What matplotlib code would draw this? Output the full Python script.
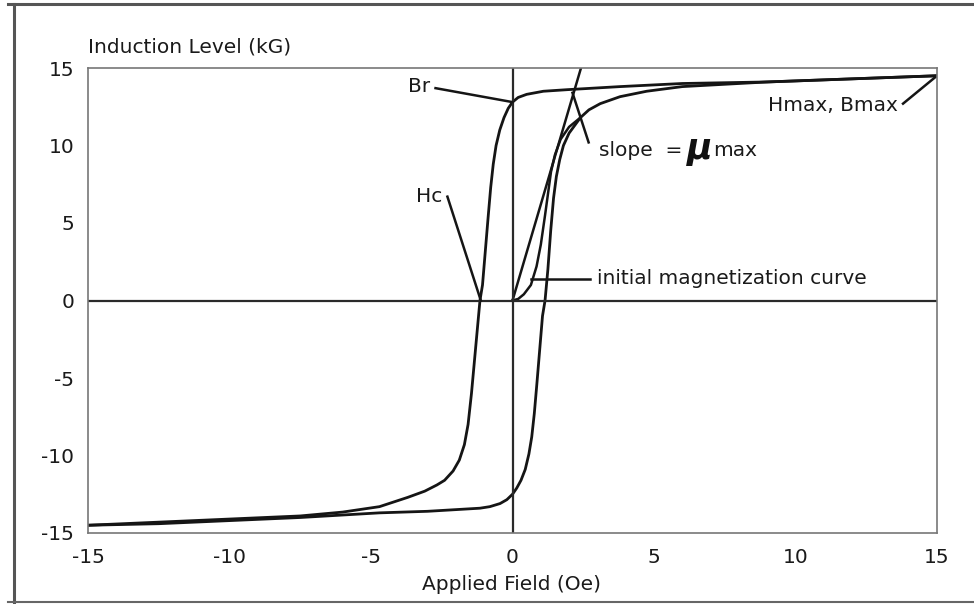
import numpy as np
import matplotlib
matplotlib.use("Agg")
import matplotlib.pyplot as plt
from matplotlib.lines import Line2D

plt.rcParams['font.family'] = ['DejaVu Sans']
plt.rcParams['axes.unicode_minus'] = False

### Data ######################################################################
# descending branch, from Hmax down to -Hmax
h_desc = [15, 12, 9, 6, 3.8, 1.92, 1.09, 0.5, 0.2, 0.0, -0.15, -0.3, -0.45,
          -0.58, -0.68, -0.77, -0.86, -0.96, -1.06, -1.15, -1.25, -1.35, -1.45,
          -1.57, -1.7, -1.88, -2.1, -2.4, -2.67, -3.1, -3.7, -4.7, -6.0, -7.5,
          -10, -12.5, -15]
b_desc = [14.5, 14.3, 14.1, 14.0, 13.8, 13.6, 13.5, 13.3, 13.1, 12.8, 12.4,
          11.8, 11.0, 10.0, 8.8, 7.3, 5.4, 3.2, 1.0, 0.0, -2.0, -4.0, -6.0,
          -8.0, -9.3, -10.3, -11.0, -11.6, -11.9, -12.3, -12.7, -13.3, -13.65,
          -13.9, -14.1, -14.3, -14.5]

# ascending branch, from -Hmax up to Hmax
h_asc = [-15, -12.5, -10, -7.5, -4.7, -3.0, -1.15, -0.8, -0.44, -0.2, 0.0, 0.15,
         0.3, 0.45, 0.58, 0.68, 0.77, 0.86, 0.96, 1.06, 1.15, 1.25, 1.35, 1.45,
         1.55, 1.67, 1.8, 2.0, 2.4, 2.7, 3.1, 3.8, 4.74, 6.0, 9, 12, 15]
b_asc = [-14.5, -14.4, -14.2, -14.0, -13.7, -13.6, -13.4, -13.3, -13.1, -12.85,
         -12.5, -12.1, -11.6, -10.9, -9.9, -8.8, -7.3, -5.4, -3.2, -1.0, 0.0,
         2.0, 4.5, 6.6, 8.0, 9.1, 10.0, 10.8, 11.8, 12.3, 12.7, 13.15, 13.5,
         13.8, 14.1, 14.3, 14.5]

# initial magnetization curve
h_init = [0.0, 0.2, 0.4, 0.65, 0.85, 1.0, 1.15, 1.36, 1.5, 1.7, 2.0, 2.4]
b_init = [0.0, 0.1, 0.4, 1.0, 2.2, 3.6, 5.5, 8.3, 9.4, 10.4, 11.2, 11.8]

# slope = mu max line
h_slope = [0.0, 2.42]
b_slope = [0.0, 15.0]

x_ticks = [-15, -10, -5, 0, 5, 10, 15]
y_ticks = [-15, -10, -5, 0, 5, 10, 15]

### Figure #####################################################################
fig = plt.figure(figsize=(9.74, 6.04), dpi=100)
ax = fig.add_axes([88 / 974, 71 / 604, 849 / 974, 465 / 604])

ink = '#151515'
ax.plot(h_desc, b_desc, color=ink, lw=2.0, solid_joinstyle='round')
ax.plot(h_asc, b_asc, color=ink, lw=2.0, solid_joinstyle='round')
ax.plot(h_init, b_init, color=ink, lw=1.8, solid_joinstyle='round')
ax.plot(h_slope, b_slope, color=ink, lw=1.8)

ax.axhline(0, color='#2a2a2a', lw=1.6)
ax.axvline(0, color='#2a2a2a', lw=1.6)

ax.set_xlim(-15, 15)
ax.set_ylim(-15, 15)

for s in ax.spines.values():
    s.set_color('#777777')
    s.set_linewidth(1.2)

ax.set_xticks(x_ticks)
ax.set_yticks(y_ticks)
ax.set_xticklabels([str(v) for v in x_ticks])
ax.set_yticklabels([str(v) for v in y_ticks])
ax.set_xticks([-10, -5, 5, 10], minor=True)
ax.set_yticks([5, 10], minor=True)
ax.tick_params(which='major', length=0, labelsize=14.5, colors='#1a1a1a')
ax.tick_params(axis='x', which='major', pad=11)
ax.tick_params(axis='y', which='major', pad=10)
ax.tick_params(which='minor', direction='in', length=8, width=1.3, color='#333333')

ax.text(0.0, 1.045, 'Induction Level (kG)', transform=ax.transAxes,
        ha='left', va='center', fontsize=14.5, color='#1a1a1a')
fig.text(512 / 974, 1 - 585 / 604, 'Applied Field (Oe)', ha='center', va='center',
         fontsize=14.5, color='#1a1a1a')

### Annotations ################################################################
lead = dict(color=ink, lw=1.8)
ax.plot([-2.72, 0.0], [13.7, 12.8], **lead)
ax.text(-3.3, 13.8, 'Br', ha='center', va='center', fontsize=14.5, color='#1a1a1a')

ax.plot([-2.3, -1.12], [6.7, 0.0], **lead)
ax.text(-2.95, 6.7, 'Hc', ha='center', va='center', fontsize=14.5, color='#1a1a1a')

ax.plot([2.69, 2.12], [10.2, 13.4], **lead)
ax.text(3.04, 9.7, 'slope  =', ha='left', va='center', fontsize=14.5, color='#1a1a1a')
ax.text(6.15, 9.75, 'μ', ha='left', va='center', fontsize=25, fontweight='bold',
        fontstyle='italic', color='#111111')
ax.text(7.1, 9.7, 'max', ha='left', va='center', fontsize=14.5, color='#1a1a1a')

ax.plot([13.8, 15.0], [12.7, 14.5], **lead)
ax.text(13.6, 12.6, 'Hmax, Bmax', ha='right', va='center', fontsize=14.5,
        color='#1a1a1a')

ax.plot([0.67, 2.74], [1.4, 1.4], **lead)
ax.text(3.0, 1.4, 'initial magnetization curve', ha='left', va='center',
        fontsize=14.5, color='#1a1a1a')

### Scanned page border ########################################################
fig.add_artist(Line2D([14 / 974, 14 / 974], [0, 1 - 4 / 604], color='#555555', lw=2.2))
fig.add_artist(Line2D([8 / 974, 1], [1 - 4 / 604, 1 - 4 / 604], color='#555555', lw=2.2))
fig.add_artist(Line2D([8 / 974, 1], [2 / 604, 2 / 604], color='#666666', lw=1.5))

fig.savefig('out.png', dpi=100)
